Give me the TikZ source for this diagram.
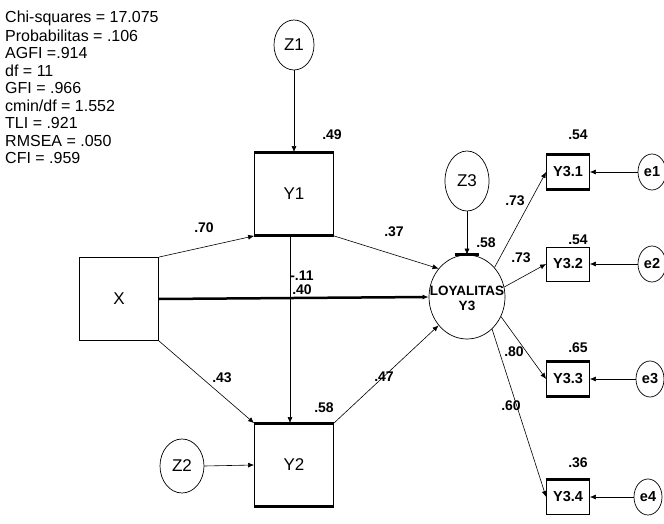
\documentclass[tikz,border=0pt]{standalone}
\usepackage{fontspec}
\setmainfont{Liberation Sans}
\usetikzlibrary{arrows.meta,shapes.geometric}
\begin{document}
\begin{tikzpicture}[x=1pt,y=-1pt,
  bigbox/.style={draw,line width=0.8pt,minimum width=79pt,minimum height=83pt,inner sep=0pt,font=\fontsize{17}{17}\selectfont},
  smallbox/.style={draw,line width=0.8pt,minimum width=43pt,minimum height=34pt,inner sep=0pt,font=\bfseries\fontsize{14.5}{14.5}\selectfont},
  latent/.style={draw,ellipse,line width=0.7pt,inner sep=0pt,font=\fontsize{17}{17}\selectfont},
  errc/.style={draw,ellipse,line width=0.7pt,inner sep=0pt,minimum width=28pt,minimum height=36pt,font=\bfseries\fontsize{14.5}{14.5}\selectfont},
  arr/.style={-{Latex[length=6pt,width=5pt]},line width=0.6pt},
  thickedge/.style={line width=3pt},
  coef/.style={font=\bfseries\fontsize{14}{14}\selectfont,inner sep=0pt},
  stat/.style={anchor=west,font=\fontsize{16}{16}\selectfont,inner sep=0pt}]
\useasboundingbox[fill=white] (0,0) rectangle (664,524);

% fit statistics
\node[stat] (s1) at (5,18)  {Chi-squares = 17.075};
\node[stat] (s2) at (5,36)  {Probabilitas = .106};
\node[stat] (s3) at (5,53)  {AGFI =.914};
\node[stat] (s4) at (5,71)  {df = 11};
\node[stat] (s5) at (5,88)  {GFI = .966};
\node[stat] (s6) at (5,106) {cmin/df = 1.552};
\node[stat] (s7) at (5,123) {TLI = .921};
\node[stat] (s8) at (5,141) {RMSEA = .050};
\node[stat] (s9) at (5,158) {CFI = .959};

% main variables
\node[bigbox] (X)  at (119,299) {X};
\node[bigbox] (Y1) at (294,194) {Y1};
\node[bigbox] (Y2) at (294,465) {Y2};
\node[latent,minimum width=76pt,minimum height=84pt] (Y3) at (467,297) {};
\node[font=\bfseries\fontsize{13.5}{14}\selectfont,align=center,inner sep=0pt] (Y3t) at (467,298) {LOYALITAS\\[1pt]Y3};

\node[latent,minimum width=40pt,minimum height=50pt] (Z1) at (294,45) {Z1};
\node[latent,minimum width=44pt,minimum height=54pt] (Z2) at (182,466) {Z2};
\node[latent,minimum width=44pt,minimum height=60pt] (Z3) at (467,181) {Z3};

% indicators
\node[smallbox] (Y31) at (568,172) {Y3.1};
\node[smallbox] (Y32) at (568,264) {Y3.2};
\node[smallbox] (Y33) at (568,379) {Y3.3};
\node[smallbox] (Y34) at (568,497) {Y3.4};
\node[errc] (e1) at (652,172) {e1};
\node[errc] (e2) at (652,264) {e2};
\node[errc] (e3) at (650,379) {e3};
\node[errc] (e4) at (648,497) {e4};

% thick edges
\draw[thickedge] (Y1.north west) -- (Y1.north east);
\draw[thickedge] (Y1.south west) -- (Y1.south east);
\draw[thickedge] (Y2.north west) -- (Y2.north east);
\draw[thickedge] (Y2.south west) -- (Y2.south east);
\draw[thickedge] (Y31.north west) -- (Y31.north east);
\draw[thickedge] (Y31.south west) -- (Y31.south east);
\draw[thickedge] (Y33.north west) -- (Y33.north east);
\draw[thickedge] (Y33.south west) -- (Y33.south east);
\draw[thickedge] (Y34.north west) -- (Y34.north east);
\draw[line width=2.5pt] ([xshift=-12pt]Y3.north) -- ([xshift=12pt]Y3.north);

% structural paths
\draw[arr] (X.north east) -- (Y1.south west);
\draw[arr] (X.south east) -- (Y2.north west);
\draw[arr,line width=2.5pt] (X.east) -- (Y3.west);
\draw[arr] (Y1.south east) -- (Y3.135);
\draw[arr] (Y2.north east) -- (Y3.225);
\draw[arr] ([xshift=-4pt]Y1.south) -- ([xshift=-4pt]Y2.north);

% disturbances
\draw[arr] (Z1.south) -- (Y1.north);
\draw[arr] (Z2.east) -- (Y2.west);
\draw[arr] (Z3.south) -- (Y3.north);

% measurement paths
\draw[arr] (Y3.47) -- (Y31.west);
\draw[arr] (Y3.15) -- (Y32.west);
\draw[arr] (Y3.-30) -- (Y33.west);
\draw[arr] (Y3.-52) -- (Y34.west);
\draw[arr] (e1.west) -- (Y31.east);
\draw[arr] (e2.west) -- (Y32.east);
\draw[arr] (e3.west) -- (Y33.east);
\draw[arr] (e4.west) -- (Y34.east);

% coefficients
\node[coef] (c70) at (204,228) {.70};
\node[coef] (c43) at (222,378) {.43};
\node[coef] (c11) at (302,276) {-.11};
\node[coef] (c40) at (302,290) {.40};
\node[coef] (c37) at (394,232) {.37};
\node[coef] (c47) at (384,377) {.47};
\node[coef] (r49) at (332,135) {.49};
\node[coef] (r58a) at (324,408) {.58};
\node[coef] (r58b) at (486,243) {.58};
\node[coef] (c731) at (515,201) {.73};
\node[coef] (c732) at (521,258) {.73};
\node[coef] (c80) at (514,352) {.80};
\node[coef] (c60) at (511,406) {.60};
\node[coef] (r54a) at (578,135) {.54};
\node[coef] (r54b) at (578,240) {.54};
\node[coef] (r65) at (578,348) {.65};
\node[coef] (r36) at (578,463) {.36};
\end{tikzpicture}
\end{document}
